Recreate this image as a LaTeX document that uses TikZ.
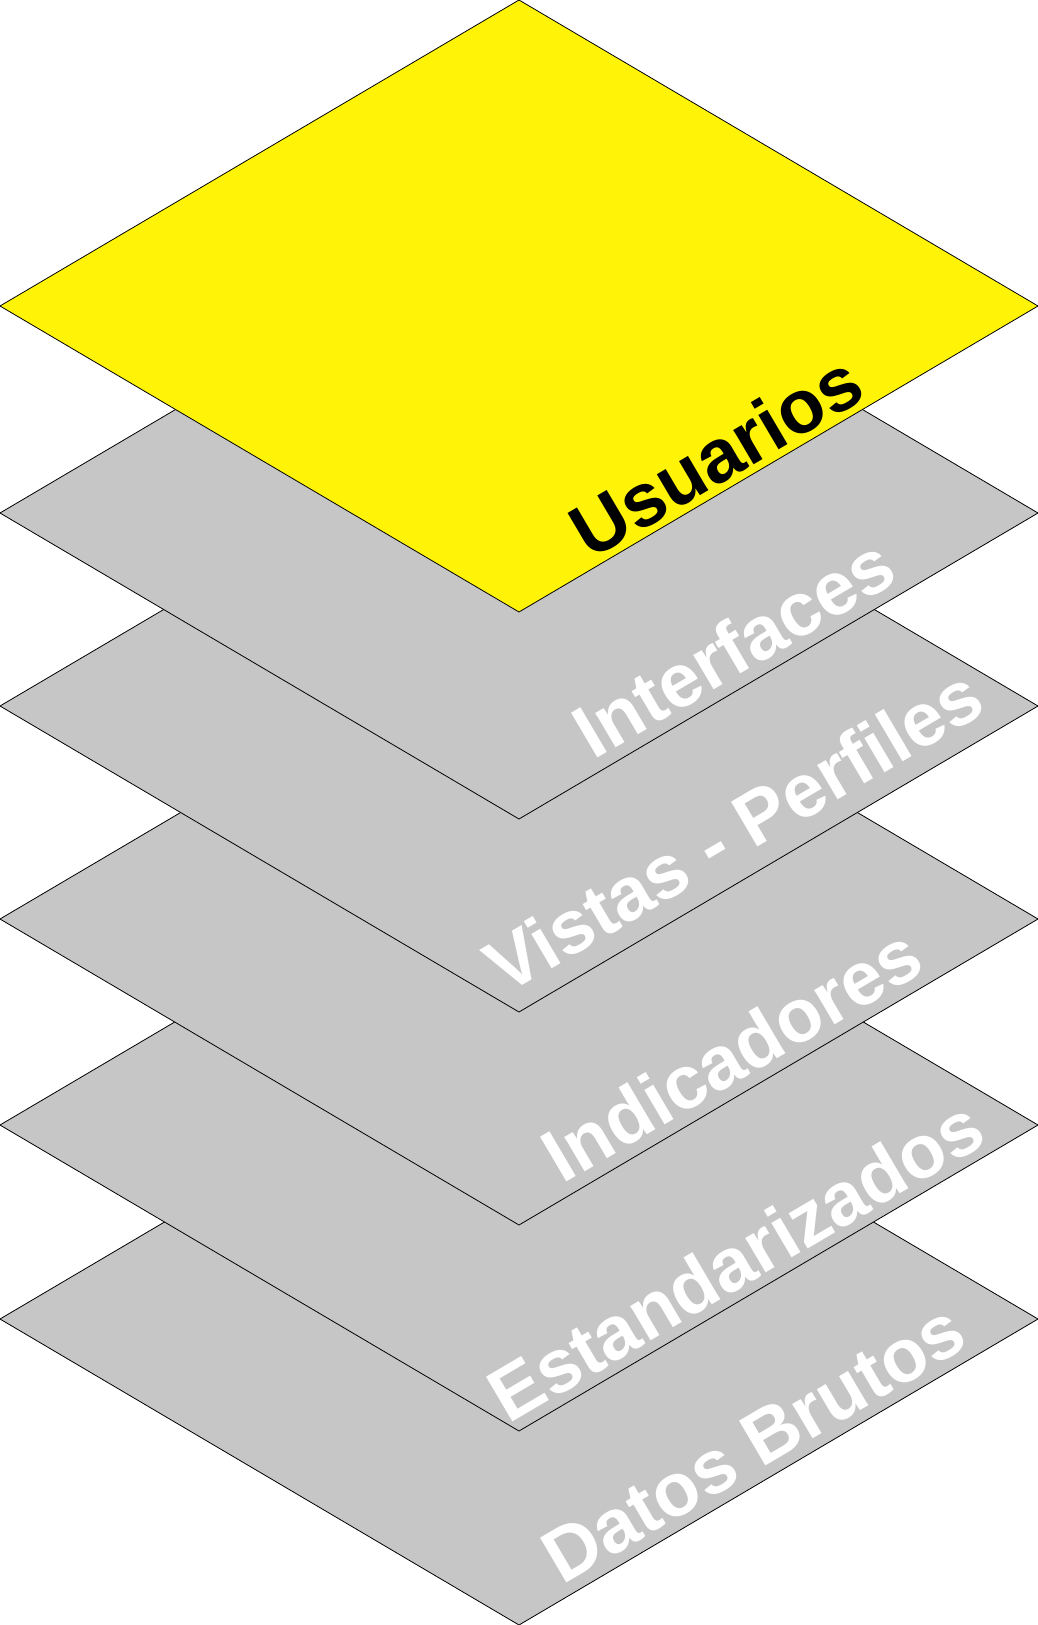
\documentclass[tikz,border=0pt]{standalone}
\usepackage{fontspec}
\setmainfont{Liberation Sans}
\definecolor{layeryellow}{RGB}{255,244,8}
\definecolor{layergray}{RGB}{198,198,198}
\begin{document}
\begin{tikzpicture}[x=1pt,y=-1pt,
  layer/.style={draw=black,line width=0.8pt,line join=miter},
  graylayer/.style={layer,fill=layergray},
  yellowlayer/.style={layer,fill=layeryellow},
  lab/.style={anchor=base west,inner sep=0pt,rotate=30.5,
    font=\fontsize{75.5}{75.5}\selectfont\bfseries},
  whitelab/.style={lab,text=white},
  blacklab/.style={lab,text=black}]
\useasboundingbox (0,0) rectangle (1038,1625);
% Datos Brutos
\draw[graylayer] (0,1319) -- (519,1013) -- (1038,1319) -- (519,1625) -- cycle;
\node[whitelab] (datos) at (562.5,1586) {Datos Brutos};
% Estandarizados
\draw[graylayer] (0,1125) -- (519,819) -- (1038,1125) -- (519,1431) -- cycle;
\node[whitelab] (estand) at (508.5,1425) {Estandarizados};
% Indicadores
\draw[graylayer] (0,919) -- (519,613) -- (1038,919) -- (519,1225) -- cycle;
\node[whitelab] (indic) at (562.5,1185) {Indicadores};
% Vistas - Perfiles
\draw[graylayer] (0,706) -- (519,400) -- (1038,706) -- (519,1012) -- cycle;
\node[whitelab] (vistas) at (505.5,996) {Vistas - Perfiles};
% Interfaces
\draw[graylayer] (0,513) -- (519,207) -- (1038,513) -- (519,819) -- cycle;
\node[whitelab] (interf) at (593.5,761) {Interfaces};
% Usuarios
\draw[yellowlayer] (0,306) -- (519,0) -- (1038,306) -- (519,612) -- cycle;
\node[blacklab] (usuarios) at (590,561) {Usuarios};
\end{tikzpicture}
\end{document}
